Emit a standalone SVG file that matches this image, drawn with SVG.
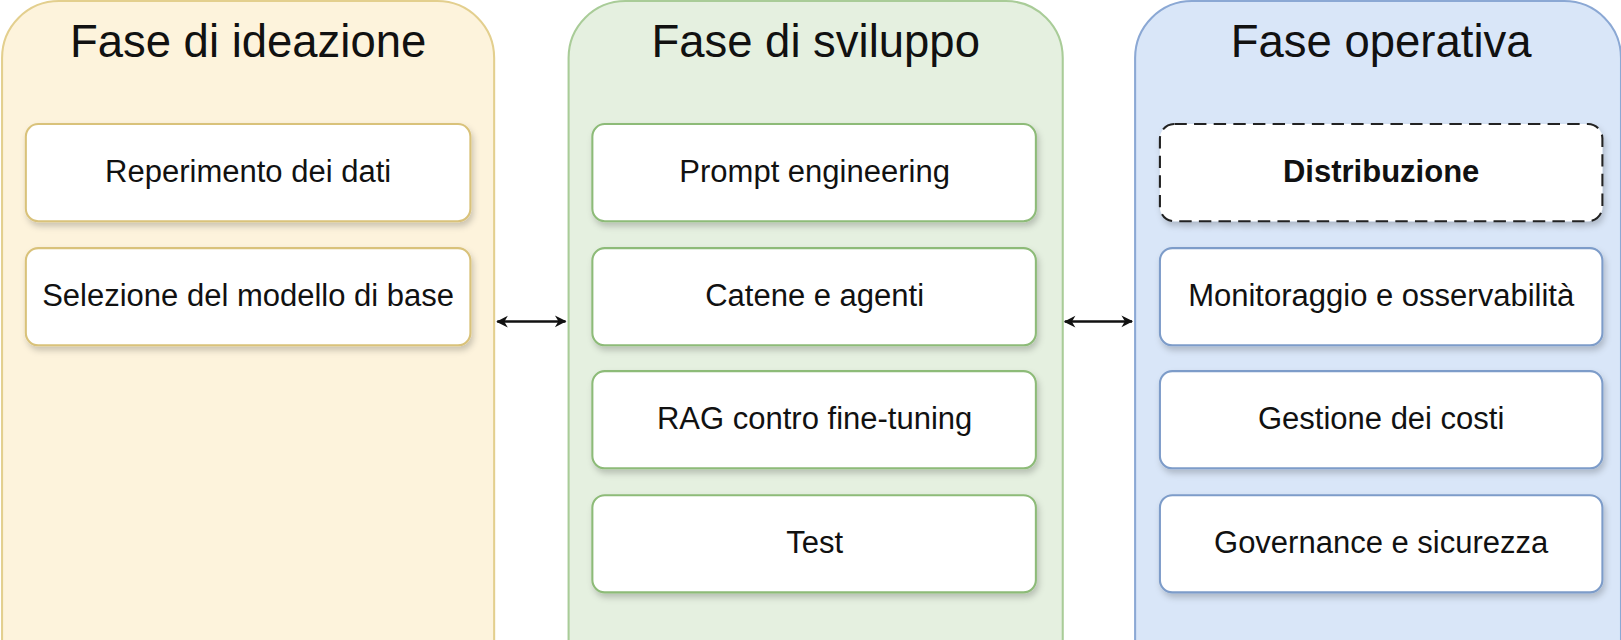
<svg xmlns="http://www.w3.org/2000/svg" width="1621" height="640" viewBox="0 0 1621 640">
<style>
.t{font-family:"Liberation Sans",Arial,sans-serif;font-size:44px;fill:#111;text-anchor:middle}
.l{font-family:"Liberation Sans",Arial,sans-serif;font-size:30px;fill:#111;text-anchor:middle;dominant-baseline:central}
.b{fill:#fff;stroke-width:2;filter:url(#sh)}
.c{stroke:#111;stroke-width:2.5;fill:none;marker-start:url(#a);marker-end:url(#a)}
</style>
<defs>
<filter id="sh" x="-10%" y="-10%" width="130%" height="140%"><feDropShadow dx="2" dy="4" stdDeviation="3" flood-opacity="0.2"/></filter>
<marker id="a" viewBox="0 0 10 10" refX="9" refY="5" markerWidth="7" markerHeight="7" orient="auto-start-reverse" markerUnits="userSpaceOnUse" style="overflow:visible"><path d="M0,0 L10,5 L0,10 L3,5 Z" fill="#111" transform="scale(1.6) translate(-3.5,-2)"/></marker>
</defs>
<rect width="1621" height="640" fill="#fff"/>
<g transform="scale(1.0338)">
<g id="p1"><rect x="2" y="1" width="476" height="680" rx="55" fill="#fdf3dc" stroke="#e3cf8e" stroke-width="2"/><text class="t" x="240" y="55">Fase di ideazione</text></g>
<g id="p2"><rect x="550" y="1" width="478" height="680" rx="55" fill="#e5f0e0" stroke="#a9cc98" stroke-width="2"/><text class="t" x="789" y="55">Fase di sviluppo</text></g>
<g id="p3"><rect x="1098" y="1" width="470" height="680" rx="55" fill="#d9e6f8" stroke="#8ba8d4" stroke-width="2"/><text class="t" x="1336" y="55">Fase operativa</text></g>
<g id="n1"><rect class="b" x="25" y="120" width="430" height="94" rx="12" stroke="#d9c27a"/><text class="l" x="240" y="166">Reperimento dei dati</text></g>
<g id="n2"><rect class="b" x="25" y="240" width="430" height="94" rx="12" stroke="#d9c27a"/><text class="l" x="240" y="286">Selezione del modello di base</text></g>
<g id="n3"><rect class="b" x="573" y="120" width="429" height="94" rx="12" stroke="#8dbb78"/><text class="l" x="788" y="166">Prompt engineering</text></g>
<g id="n4"><rect class="b" x="573" y="240" width="429" height="94" rx="12" stroke="#8dbb78"/><text class="l" x="788" y="286">Catene e agenti</text></g>
<g id="n5"><rect class="b" x="573" y="359" width="429" height="94" rx="12" stroke="#8dbb78"/><text class="l" x="788" y="405">RAG contro fine-tuning</text></g>
<g id="n6"><rect class="b" x="573" y="479" width="429" height="94" rx="12" stroke="#8dbb78"/><text class="l" x="788" y="525">Test</text></g>
<g id="n7"><rect class="b" x="1122" y="120" width="428" height="94" rx="14" stroke="#222" stroke-width="4" stroke-dasharray="12 7"/><text class="l" x="1336" y="166" font-weight="bold">Distribuzione</text></g>
<g id="n8"><rect class="b" x="1122" y="240" width="428" height="94" rx="12" stroke="#7d9cc9"/><text class="l" x="1336" y="286">Monitoraggio e osservabilità</text></g>
<g id="n9"><rect class="b" x="1122" y="359" width="428" height="94" rx="12" stroke="#7d9cc9"/><text class="l" x="1336" y="405">Gestione dei costi</text></g>
<g id="n10"><rect class="b" x="1122" y="479" width="428" height="94" rx="12" stroke="#7d9cc9"/><text class="l" x="1336" y="525">Governance e sicurezza</text></g>
<g id="connectors">
<line class="c" x1="481" y1="311" x2="547" y2="311"/>
<line class="c" x1="1030" y1="311" x2="1095" y2="311"/>
</g>
</g>
</svg>
